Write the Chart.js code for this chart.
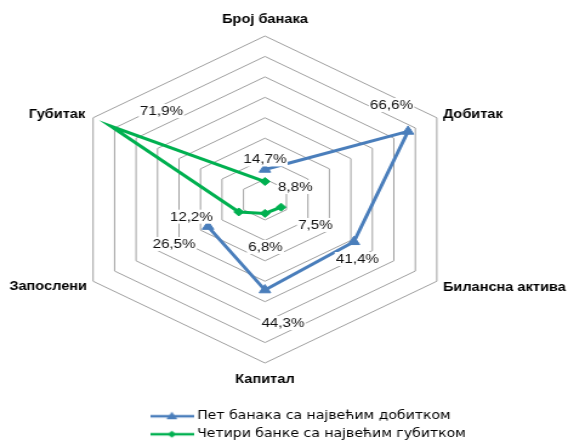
<!DOCTYPE html>
<html>
<head>
<meta charset="utf-8">
<script src="https://cdn.jsdelivr.net/npm/chart.js@4.4.1/dist/chart.umd.min.js"></script>
<style>
html,body{margin:0;padding:0;background:#fff;overflow:hidden;width:568px;height:442px;}
#wrap{position:absolute;left:0;top:0;width:468px;height:442px;transform:scaleX(1.213675);transform-origin:0 0;}
canvas{display:block;}
</style>
</head>
<body>
<div id="wrap"><canvas id="c" width="468" height="442"></canvas></div>
<script>
// ---- data ----
const categories = ['Број банака', 'Добитак', 'Билансна актива', 'Капитал', 'Запослени', 'Губитак'];
const seriesNames = ['Пет банака са највећим добитком', 'Четири банке са највећим губитком'];
const topProfitBanks = [14.7, 66.6, 41.4, 44.3, 26.5, null];
const topLossBanks = [8.8, null, 7.5, 6.8, 12.2, 71.9];
const scaleMin = 0;
const scaleMax = 80;
const scaleStep = 10;

// ---- styling / layout ----
const blue = '#4A7EBB';
const green = '#00B050';
const axisLabelOffsets = [
  {dx: 0, dy: -16, align: 'center'},
  {dx: 5, dy: -3, align: 'left'},
  {dx: 5, dy: 6, align: 'left'},
  {dx: 0, dy: 17, align: 'center'},
  {dx: -5, dy: 5, align: 'right'},
  {dx: -6.5, dy: -3, align: 'right'}
];
const dataLabelOffsets = [
  [[0, -10], [-13.6, -26.4], [2.9, 17.2], [14.8, 33], [-28, 17.4], [0, 0]],
  [[25, 5.5], [0, 0], [28.3, 17.8], [0.4, 33.6], [-39, 4.7], [42, -15]]
];

function fmt(v) { return v.toFixed(1).replace('.', ',') + '%'; }

function makeIcon(color, shape) {
  const c = document.createElement('canvas');
  c.width = 36; c.height = 12;
  const g = c.getContext('2d');
  g.strokeStyle = color; g.lineWidth = 2.5;
  g.beginPath(); g.moveTo(0, 6); g.lineTo(36, 6); g.stroke();
  g.fillStyle = color;
  g.beginPath();
  if (shape === 'triangle') {
    g.moveTo(18, 1.5); g.lineTo(22.5, 9); g.lineTo(13.5, 9);
  } else {
    g.moveTo(18, 2.5); g.lineTo(21.5, 6); g.lineTo(18, 9.5); g.lineTo(14.5, 6);
  }
  g.closePath(); g.fill();
  return c;
}
const legendIcons = [makeIcon(blue, 'triangle'), makeIcon(green, 'diamond')];

const radarText = {
  id: 'radarText',
  afterDatasetsDraw(chart) {
    const ctx = chart.ctx;
    const r = chart.scales.r;
    ctx.save();
    ctx.textBaseline = 'middle';
    ctx.font = 'bold 12px "Liberation Sans", Arial, sans-serif';
    ctx.fillStyle = '#000';
    categories.forEach((name, i) => {
      const p = r.getPointPosition(i, r.drawingArea);
      const o = axisLabelOffsets[i];
      ctx.textAlign = o.align;
      ctx.fillText(name, p.x + o.dx, p.y + o.dy);
    });
    ctx.font = '12.5px "Liberation Sans", Arial, sans-serif';
    ctx.textAlign = 'center';
    chart.data.datasets.forEach((ds, di) => {
      const meta = chart.getDatasetMeta(di);
      meta.data.forEach((el, i) => {
        const v = ds.data[i];
        if (v === null || v === undefined) return;
        const off = dataLabelOffsets[di][i];
        const x = el.x + off[0], y = el.y + off[1];
        const txt = fmt(v);
        const w = ctx.measureText(txt).width;
        ctx.fillStyle = '#fff';
        ctx.fillRect(x - w / 2 - 1, y - 7, w + 2, 14);
        ctx.fillStyle = '#111';
        ctx.fillText(txt, x, y + 0.5);
      });
    });
    ctx.restore();
  }
};

new Chart(document.getElementById('c'), {
  type: 'radar',
  data: {
    labels: categories,
    datasets: [
      {
        label: seriesNames[0], data: topProfitBanks,
        borderColor: blue, backgroundColor: blue, borderWidth: 3,
        pointStyle: 'triangle', pointRadius: 5.5, pointBorderWidth: 1,
        pointBackgroundColor: blue, pointBorderColor: blue,
        fill: false, spanGaps: false, clip: false, tension: 0
      },
      {
        label: seriesNames[1], data: topLossBanks,
        borderColor: green, backgroundColor: green, borderWidth: 3,
        pointStyle: 'rectRot', pointRadius: 4, pointBorderWidth: 1,
        pointBackgroundColor: green, pointBorderColor: green,
        fill: false, spanGaps: false, clip: false, tension: 0
      }
    ]
  },
  options: {
    responsive: false,
    animation: false,
    devicePixelRatio: 1,
    layout: {padding: {left: 120.2, right: 0, top: 0, bottom: 0}},
    plugins: {
      tooltip: {enabled: false},
      legend: {
        position: 'bottom',
        align: 'start',
        maxHeight: 38,
        labels: {
          usePointStyle: true,
          pointStyleWidth: 30,
          padding: 6.4,
          color: '#000',
          font: {family: '"DejaVu Sans", sans-serif', size: 11.6},
          generateLabels(chart) {
            const items = Chart.defaults.plugins.legend.labels.generateLabels(chart);
            items.forEach((it, i) => { it.pointStyle = legendIcons[i]; });
            return items;
          }
        }
      }
    },
    scales: {
      r: {
        min: scaleMin, max: scaleMax,
        ticks: {display: false, stepSize: scaleStep},
        grid: {color: '#a0a0a0', lineWidth: 1, circular: false},
        angleLines: {display: false},
        pointLabels: {display: false},
        afterFit(scale) {
          scale.xCenter = 218.3;
          scale.yCenter = 199.5;
          scale.drawingArea = 163.5;
        }
      }
    }
  },
  plugins: [radarText]
});
</script>
</body>
</html>
